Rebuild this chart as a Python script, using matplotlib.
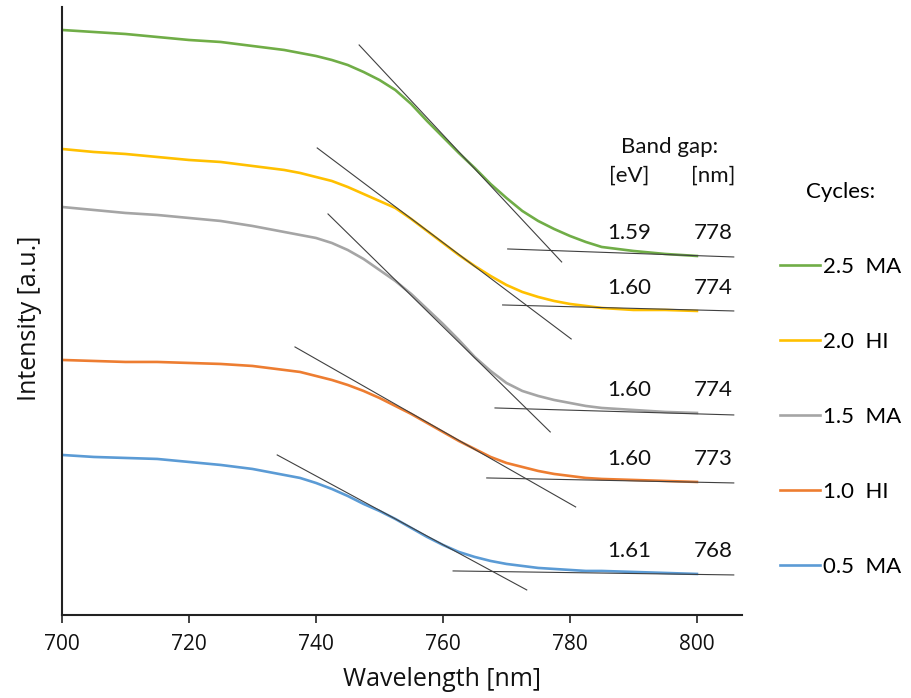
import numpy as np
import matplotlib
matplotlib.use("Agg")
import matplotlib.pyplot as plt

# wavelength grid [nm] (finer where the edge is)
wl = [700, 705, 710, 715, 720, 725, 730,
      735, 737.5, 740, 742.5, 745, 747.5, 750, 752.5, 755, 757.5, 760,
      762.5, 765, 767.5, 770, 772.5, 775, 777.5, 780, 782.5, 785,
      790, 795, 800]

# intensity [a.u.], one series per deposition cycle
i_25ma = [5.85, 5.83, 5.81, 5.78, 5.75, 5.73, 5.69,
          5.65, 5.62, 5.59, 5.55, 5.50, 5.43, 5.35, 5.25, 5.11, 4.94, 4.78,
          4.62, 4.47, 4.31, 4.17, 4.04, 3.94, 3.86, 3.79, 3.73, 3.68,
          3.64, 3.61, 3.59]
i_20hi = [4.66, 4.63, 4.61, 4.58, 4.55, 4.53, 4.49,
          4.45, 4.42, 4.38, 4.34, 4.28, 4.21, 4.14, 4.07, 3.96, 3.84, 3.72,
          3.60, 3.49, 3.39, 3.30, 3.23, 3.18, 3.14, 3.11, 3.09, 3.07,
          3.05, 3.05, 3.04]
i_15ma = [4.08, 4.05, 4.02, 4.00, 3.97, 3.94, 3.89,
          3.83, 3.80, 3.77, 3.72, 3.65, 3.56, 3.45, 3.34, 3.21, 3.06, 2.91,
          2.75, 2.58, 2.44, 2.32, 2.24, 2.19, 2.15, 2.12, 2.09, 2.07,
          2.05, 2.03, 2.02]
i_10hi = [2.55, 2.54, 2.53, 2.53, 2.52, 2.51, 2.49,
          2.45, 2.43, 2.39, 2.35, 2.30, 2.24, 2.17, 2.09, 2.01, 1.92, 1.83,
          1.74, 1.66, 1.58, 1.52, 1.48, 1.44, 1.41, 1.39, 1.37, 1.36,
          1.35, 1.34, 1.33]
i_05ma = [1.60, 1.58, 1.57, 1.56, 1.53, 1.50, 1.46,
          1.40, 1.37, 1.32, 1.26, 1.19, 1.11, 1.04, 0.96, 0.87, 0.78, 0.70,
          0.63, 0.58, 0.54, 0.51, 0.49, 0.47, 0.46, 0.45, 0.44, 0.44,
          0.43, 0.42, 0.41]

labels = ["2.5  MA", "2.0  HI", "1.5  MA", "1.0  HI", "0.5  MA"]
colors = ["#70AD47", "#FFC000", "#A5A5A5", "#ED7D31", "#5B9BD5"]
series = [i_25ma, i_20hi, i_15ma, i_10hi, i_05ma]

# tangent lines (slope line and baseline), endpoints [nm], [a.u.]
slope_x = [[746.8, 778.7], [740.2, 780.2], [741.9, 776.9], [736.7, 780.9], [733.9, 773.2]]
slope_y = [[5.70, 3.53], [4.67, 2.76], [4.01, 1.83], [2.68, 1.08], [1.60, 0.25]]
base_x = [[770.2, 805.8], [769.4, 805.8], [768.2, 805.8], [766.9, 805.8], [761.6, 805.8]]
base_y = [[3.66, 3.58], [3.10, 3.04], [2.07, 2.00], [1.37, 1.32], [0.44, 0.40]]

gap_ev = ["1.59", "1.60", "1.60", "1.60", "1.61"]
gap_nm = ["778", "774", "774", "773", "768"]

fig = plt.figure(figsize=(9.11, 6.98), dpi=100)
ax = fig.add_axes([0.068, 0.119, 0.7465, 0.871])

for ys, c, lab in zip(series, colors, labels):
    ax.plot(wl, ys, color=c, lw=1.9, label=lab, zorder=2)

for sx, sy, bx, by in zip(slope_x, slope_y, base_x, base_y):
    ax.plot(sx, sy, color="#404040", lw=0.8, zorder=3)
    ax.plot(bx, by, color="#404040", lw=0.8, zorder=3)

tfont = dict(family="Lato", fontsize=16, color="#111111")
for ys, ev, nm in zip(series, gap_ev, gap_nm):
    ax.text(789.4, ys[-1] + 0.23, ev, ha="center", va="center", **tfont)
    ax.text(802.5, ys[-1] + 0.23, nm, ha="center", va="center", **tfont)
ax.text(795.7, 4.68, "Band gap:", ha="center", va="center", **tfont)
ax.text(789.4, 4.39, "[eV]", ha="center", va="center", **tfont)
ax.text(802.5, 4.39, "[nm]", ha="center", va="center", **tfont)

ax.set_xlim(700, 807.1)
ax.set_ylim(0, 6.08)
ax.set_xticks([700, 720, 740, 760, 780, 800])
ax.set_yticks([])
for s in ["top", "right"]:
    ax.spines[s].set_visible(False)
for s in ["left", "bottom"]:
    ax.spines[s].set_linewidth(1.5)
    ax.spines[s].set_color("#222222")
ax.tick_params(axis="x", length=6, width=1.2, color="#222222", pad=8,
               labelsize=15, labelcolor="#111111")
for t in ax.get_xticklabels():
    t.set_family("Open Sans")

ax.set_xlabel("Wavelength [nm]", family="Open Sans", fontsize=18, color="#111111")
ax.xaxis.set_label_coords(0.559, -0.085)
ax.set_ylabel("Intensity [a.u.]", family="Open Sans", fontsize=18, color="#111111")
ax.yaxis.set_label_coords(-0.03, 0.488)

leg = ax.legend(loc="upper left", bbox_to_anchor=(0.856, 0.739),
                bbox_transform=fig.transFigure, frameon=False,
                title="Cycles:", prop=dict(family="Lato", size=16),
                handlelength=1.8, handletextpad=0.15, labelspacing=2.47,
                borderpad=0, borderaxespad=0)
leg.get_title().set_family("Lato")
leg.get_title().set_fontsize(16)

fig.savefig("out.png", dpi=100)
